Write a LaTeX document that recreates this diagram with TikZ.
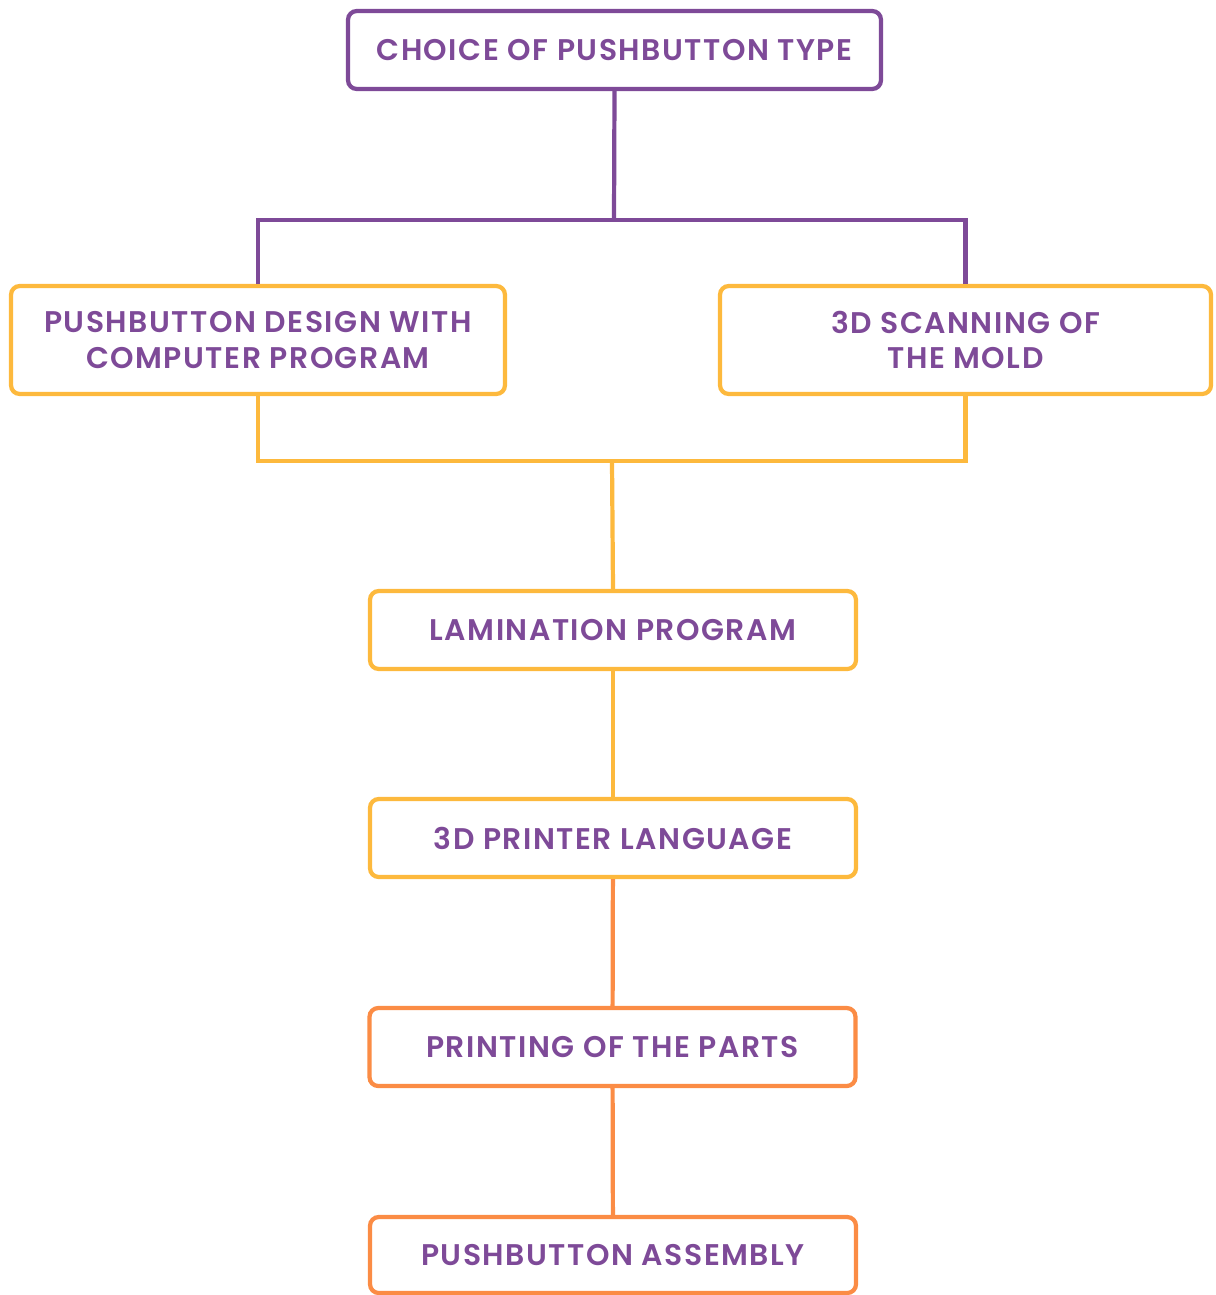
\documentclass[tikz,border=0pt]{standalone}
\usepackage{fontspec}
\setmainfont{Poppins}[BoldFont={Poppins SemiBold}, BoldFeatures={LetterSpace=5}]
\definecolor{violet}{HTML}{7E4A98}
\definecolor{amber}{HTML}{FDB93D}
\definecolor{tangerine}{HTML}{FB8C45}
\tikzset{
	stagebox/.style={draw, rounded corners=5pt, line width=2.4pt, fill=white,
		align=center, text=violet, inner sep=0pt,
		font=\fontsize{17}{20}\selectfont\bfseries},
	link/.style={line width=2.4pt}
}
\begin{document}
\begin{tikzpicture}[x=0.02cm, y=-0.02cm]
	\useasboundingbox (0,0) rectangle (1215,1295);
	
	%%% Блоки
	
	% Верхний блок
	\node[stagebox, draw=violet, minimum width=533*0.02cm, minimum height=78*0.02cm] (choice) at (614.5,50) {CHOICE OF PUSHBUTTON TYPE};
	
	% Две ветви
	\node[stagebox, draw=amber, minimum width=494*0.02cm, minimum height=108*0.02cm] (design) at (258,340) {PUSHBUTTON DESIGN WITH\\COMPUTER PROGRAM};
	\node[stagebox, draw=amber, minimum width=491*0.02cm, minimum height=108*0.02cm] (scan) at (965.5,340) {3D SCANNING OF\\THE MOLD};
	
	% Цепочка вниз
	\node[stagebox, draw=amber, minimum width=486*0.02cm, minimum height=78*0.02cm] (lamination) at (613,630) {LAMINATION PROGRAM};
	\node[stagebox, draw=amber, minimum width=486*0.02cm, minimum height=78*0.02cm] (language) at (613,838) {3D PRINTER LANGUAGE};
	\node[stagebox, draw=tangerine, minimum width=486*0.02cm, minimum height=78*0.02cm] (printing) at (612.5,1047) {PRINTING OF THE PARTS};
	\node[stagebox, draw=tangerine, minimum width=486*0.02cm, minimum height=76*0.02cm] (assembly) at (613,1255) {PUSHBUTTON ASSEMBLY};
	
	%%% Соединения
	
	\coordinate (split) at (614,220);
	\coordinate (merge) at (612,461);
	
	\draw[link, violet] (choice.south) -- (split);
	\draw[link, violet] (design.north) |- (split) -| (scan.north);
	
	\draw[link, amber] (design.south) |- (merge) -| (scan.south);
	\draw[link, amber] (merge) -- (lamination.north);
	\draw[link, amber] (lamination) -- (language);
	
	\draw[link, tangerine] (language) -- (printing);
	\draw[link, tangerine] (printing) -- (assembly);
\end{tikzpicture}
\end{document}
